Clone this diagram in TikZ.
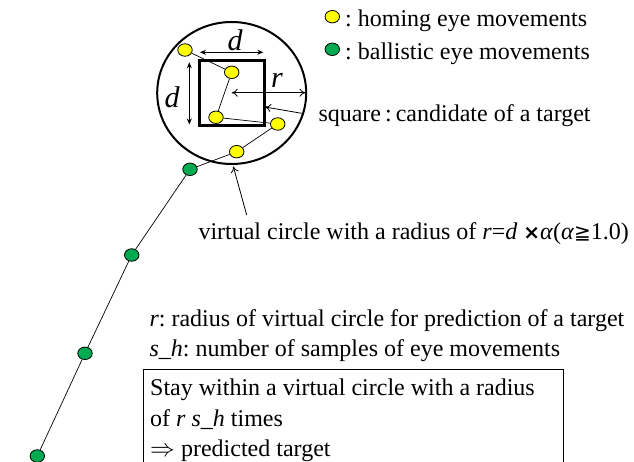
\documentclass[tikz,border=0pt]{standalone}
\usepackage{fontspec}
\setmainfont{Liberation Serif}
\newfontfamily\symfont{DejaVu Sans}
\usetikzlibrary{arrows.meta,shapes.geometric}
\frenchspacing
\definecolor{homyel}{RGB}{255,255,0}
\definecolor{balgreen}{RGB}{0,170,80}
\tikzset{
  txt/.style={anchor=base west, inner sep=0pt, font=\fontsize{24}{28}\selectfont},
  ydot/.style={ellipse, draw=black, fill=homyel, minimum width=14.5pt, minimum height=12.5pt, inner sep=0pt, line width=0.8pt},
  gdot/.style={ellipse, draw=black, fill=balgreen, minimum width=14.5pt, minimum height=12.5pt, inner sep=0pt, line width=0.8pt},
  thinline/.style={draw=black, line width=0.7pt},
  dimarrow/.style={line width=0.9pt, {Stealth[length=6pt,width=5pt]}-{Stealth[length=6pt,width=5pt]}},
  openarrow/.style={line width=0.8pt, -{To[length=6pt,width=8pt]}},
  bigital/.style={inner sep=0pt, font=\fontsize{30}{34}\selectfont\itshape}
}
\begin{document}
\begin{tikzpicture}[x=1pt,y=-1pt]
\useasboundingbox (0,0) rectangle (634,462);
\clip (0,0) rectangle (634,462);
% virtual circle
\draw[line width=2pt] (231.7,93) ellipse [x radius=74.5, y radius=71];
% square
\draw[line width=2.5pt] (199.3,60.7) rectangle (264.3,125.7);
\coordinate (sqR) at (265,107);
% dimension arrows
\coordinate (dl) at (200,52.3); \coordinate (dr) at (263.3,52.3);
\draw[dimarrow] (dl) -- (dr);
\node[bigital] (dtop) at (235,40) {d};
\coordinate (vt) at (189.3,62.3); \coordinate (vb) at (189.3,124.5);
\draw[dimarrow] (vt) -- (vb);
\node[bigital] (dleft) at (172,97) {d};
\coordinate (rc) at (231.7,92.7); \coordinate (re) at (305.5,92.7);
\draw[line width=0.8pt, {To[length=6pt,width=8pt]}-{To[length=6pt,width=8pt]}] (rc) -- (re);
\node[bigital] (rlab) at (277,80) {r};
% eye movement points
\node[ydot] (y1) at (185,50) {};
\node[ydot] (y2) at (231.7,72.3) {};
\node[ydot] (y3) at (216,117.3) {};
\node[ydot] (y4) at (277.7,124) {};
\node[ydot] (y5) at (236.7,151.7) {};
\node[gdot] (g1) at (190,169.3) {};
\node[gdot] (g2) at (131.7,255) {};
\node[gdot] (g3) at (85,353.3) {};
\node[gdot] (g4) at (37.3,456) {};
\draw[thinline] (y1) -- (y2) -- (y3) -- (y4) -- (y5) -- (g1) -- (g2) -- (g3) -- (g4);
% legend
\node[ydot] (ly) at (332.3,16.7) {};
\node[txt] (lyt) at (345,26.7) {: homing eye movements};
\node[gdot] (lg) at (332.3,49.3) {};
\node[txt] (lgt) at (345,59.3) {: ballistic eye movements};
% square label
\node[txt] (sqlab) at (318.3,121.7) {square\,:\,candidate of a target};
\coordinate (sqa) at (301.7,113.3);
\draw[openarrow] (sqa) -- (sqR);
% circle label
\node[txt] (circlab) at (198.3,239.3) {virtual circle with a radius of \textit{r}=\textit{d} {\symfont\fontsize{20}{24}\selectfont\bfseries ×}\textit{α}(\textit{α}{\symfont\fontsize{20}{24}\selectfont ≧}1.0)};
\coordinate (ca) at (246.7,215);
\coordinate (ct) at (233.3,166.5);
\draw[openarrow] (ca) -- (ct);
% definitions
\node[txt] (def1) at (149.3,326.7) {\textit{r}: radius of virtual circle for prediction of a target};
\node[txt] (def2) at (149.3,356.7) {\textit{s\_h}: number of samples of eye movements};
% box
\draw[line width=1.2pt] (143.3,480) -- (143.3,369.3) -- (563.3,369.3) -- (563.3,480);
\node[txt] (b1) at (150,395) {Stay within a virtual circle with a radius};
\node[txt] (b2) at (150,426.7) {of \textit{r} \textit{s\_h} times};
\node[txt] (b3) at (150,456) {$\Rightarrow$ predicted target};
\end{tikzpicture}
\end{document}
